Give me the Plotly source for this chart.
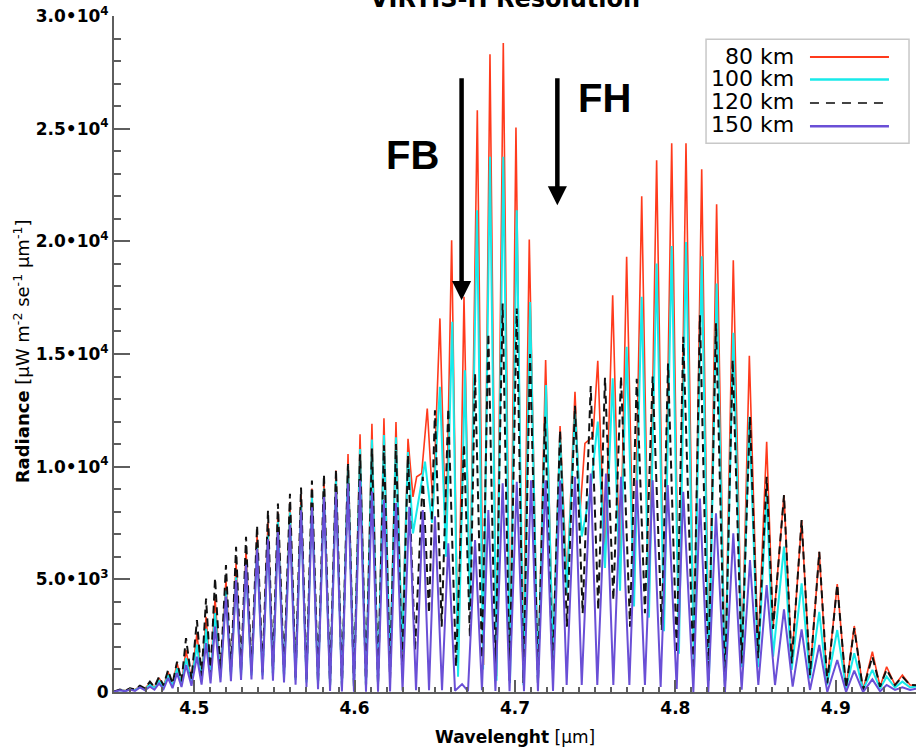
import plotly.graph_objects as go

# (wavelength [um], radiance [uW m-2 sr-1 um-1]) pairs, peak / trough sequence per altitude
radiance_80km = [
    (4.4500, 15), (4.4537, 100), (4.4569, 60), (4.4600, 150), (4.4631, 100), (4.4662, 260),
    (4.4693, 150), (4.4724, 400), (4.4752, 200), (4.4781, 620), (4.4809, 260), (4.4837, 900),
    (4.4865, 330), (4.4893, 1285), (4.4921, 420), (4.4949, 1860), (4.4983, 520), (4.5017, 2600),
    (4.5046, 620), (4.5074, 3340), (4.5102, 700), (4.5130, 4150), (4.5164, 770), (4.5198, 4970),
    (4.5229, 800), (4.5261, 5720), (4.5292, 820), (4.5323, 6300), (4.5357, 830), (4.5392, 6960),
    (4.5426, 820), (4.5460, 7540), (4.5491, 780), (4.5522, 7980), (4.5560, 700), (4.5597, 8420),
    (4.5632, 600), (4.5666, 8750), (4.5700, 480), (4.5734, 9030), (4.5772, 380), (4.5809, 9380),
    (4.5847, 300), (4.5884, 9830), (4.5921, 250), (4.5959, 10560), (4.5996, 250), (4.6034, 11440),
    (4.6071, 300), (4.6108, 11900), (4.6146, 400), (4.6183, 12150), (4.6221, 1000), (4.6258, 11980),
    (4.6296, 2000), (4.6333, 11240), (4.6364, 8660), (4.6387, 9550), (4.6418, 9700), (4.6453, 12580),
    (4.6489, 8200), (4.6532, 16580), (4.6570, 6500), (4.6605, 20050), (4.6645, 1200), (4.6682, 17540),
    (4.6719, 4000), (4.6765, 25820), (4.6804, 1200), (4.6844, 28300), (4.6885, 700), (4.6927, 28800),
    (4.6969, 500), (4.7006, 25050), (4.7050, 400), (4.7089, 20080), (4.7143, 500), (4.7191, 14730),
    (4.7237, 1700), (4.7281, 11800), (4.7324, 4800), (4.7374, 13320), (4.7405, 7930), (4.7436, 11030),
    (4.7486, 11330), (4.7516, 14700), (4.7561, 5800), (4.7609, 17610), (4.7655, 4800), (4.7696, 19310),
    (4.7742, 4100), (4.7790, 22000), (4.7835, 3600), (4.7883, 23600), (4.7929, 3000), (4.7977, 24350),
    (4.8022, 2000), (4.8066, 24350), (4.8116, 1200), (4.8164, 23200), (4.8209, 800), (4.8257, 21650),
    (4.8309, 500), (4.8361, 19160), (4.8415, 1400), (4.8461, 14920), (4.8515, 1800), (4.8569, 11100),
    (4.8609, 2840), (4.8677, 8740), (4.8725, 1270), (4.8787, 7630), (4.8839, 750), (4.8897, 6220),
    (4.8945, 385), (4.9009, 4790), (4.9064, 160), (4.9115, 2930), (4.9170, 90), (4.9228, 1790),
    (4.9276, 235), (4.9317, 1120), (4.9369, 310), (4.9415, 750), (4.9463, 310), (4.9500, 300),
]

radiance_100km = [
    (4.4500, 12), (4.4537, 90), (4.4569, 50), (4.4600, 130), (4.4631, 80), (4.4662, 220),
    (4.4693, 120), (4.4724, 330), (4.4752, 170), (4.4781, 500), (4.4809, 220), (4.4837, 750),
    (4.4865, 280), (4.4893, 1050), (4.4921, 350), (4.4949, 1500), (4.4983, 440), (4.5017, 2100),
    (4.5046, 520), (4.5074, 2800), (4.5102, 600), (4.5130, 3500), (4.5164, 660), (4.5198, 4500),
    (4.5229, 700), (4.5261, 5100), (4.5292, 720), (4.5323, 5670), (4.5357, 740), (4.5392, 6520),
    (4.5426, 730), (4.5460, 6960), (4.5491, 700), (4.5522, 7540), (4.5560, 620), (4.5597, 7980),
    (4.5632, 530), (4.5666, 8300), (4.5700, 420), (4.5734, 8640), (4.5772, 320), (4.5809, 9030),
    (4.5847, 250), (4.5884, 9380), (4.5921, 200), (4.5959, 10120), (4.5996, 200), (4.6034, 10780),
    (4.6071, 250), (4.6108, 11200), (4.6146, 300), (4.6183, 11400), (4.6221, 900), (4.6258, 11300),
    (4.6296, 1800), (4.6333, 10650), (4.6364, 7040), (4.6439, 10220), (4.6483, 7500), (4.6532, 13540),
    (4.6570, 6000), (4.6609, 16430), (4.6645, 680), (4.6688, 14280), (4.6719, 3640), (4.6763, 21380),
    (4.6801, 1000), (4.6844, 23750), (4.6885, 500), (4.6927, 23750), (4.6969, 400), (4.7011, 21380),
    (4.7053, 300), (4.7094, 17310), (4.7143, 400), (4.7193, 13620), (4.7237, 1500), (4.7281, 11300),
    (4.7322, 4380), (4.7374, 12510), (4.7416, 6900), (4.7472, 9000), (4.7516, 12000), (4.7561, 5500),
    (4.7609, 13920), (4.7655, 4500), (4.7696, 15320), (4.7742, 3800), (4.7790, 17540), (4.7835, 3300),
    (4.7883, 19020), (4.7929, 2700), (4.7977, 19790), (4.8022, 1700), (4.8066, 19970), (4.8116, 900),
    (4.8164, 19340), (4.8209, 500), (4.8257, 18130), (4.8309, 250), (4.8361, 15940), (4.8415, 1100),
    (4.8461, 12210), (4.8515, 1100), (4.8569, 8810), (4.8609, 1570), (4.8677, 6450), (4.8725, 980),
    (4.8787, 4820), (4.8839, 600), (4.8897, 3560), (4.8945, 310), (4.9009, 2750), (4.9064, 160),
    (4.9115, 1720), (4.9170, 100), (4.9228, 980), (4.9276, 150), (4.9317, 680), (4.9369, 200),
    (4.9415, 460), (4.9463, 200), (4.9500, 250),
]

radiance_120km = [
    (4.4500, 15), (4.4537, 110), (4.4569, 60), (4.4600, 160), (4.4631, 110), (4.4662, 280),
    (4.4693, 160), (4.4724, 460), (4.4752, 220), (4.4781, 680), (4.4809, 290), (4.4837, 975),
    (4.4865, 370), (4.4893, 1345), (4.4921, 470), (4.4949, 2390), (4.4983, 580), (4.5017, 3190),
    (4.5046, 690), (4.5074, 4150), (4.5102, 780), (4.5130, 5060), (4.5164, 850), (4.5198, 5630),
    (4.5229, 880), (4.5261, 6445), (4.5292, 900), (4.5323, 6890), (4.5357, 900), (4.5392, 7390),
    (4.5426, 880), (4.5460, 8050), (4.5491, 830), (4.5522, 8360), (4.5560, 750), (4.5597, 8800),
    (4.5632, 650), (4.5666, 9070), (4.5700, 520), (4.5734, 9380), (4.5772, 400), (4.5809, 9650),
    (4.5847, 300), (4.5884, 9870), (4.5921, 250), (4.5959, 10120), (4.5996, 240), (4.6034, 10550),
    (4.6071, 270), (4.6108, 10800), (4.6146, 330), (4.6183, 10950), (4.6221, 600), (4.6258, 11000),
    (4.6296, 1000), (4.6333, 10500), (4.6377, 1860), (4.6425, 9550), (4.6464, 3500), (4.6501, 12500),
    (4.6543, 2900), (4.6584, 12580), (4.6632, 1120), (4.6682, 11000), (4.6719, 2450), (4.6751, 14140),
    (4.6794, 1500), (4.6834, 15910), (4.6878, 800), (4.6923, 17240), (4.6966, 500), (4.7011, 17020),
    (4.7053, 400), (4.7094, 15000), (4.7143, 400), (4.7187, 12210), (4.7234, 1000), (4.7281, 11600),
    (4.7324, 2900), (4.7374, 12700), (4.7422, 3490), (4.7472, 13580), (4.7519, 3640), (4.7561, 13950),
    (4.7613, 4080), (4.7661, 14000), (4.7717, 2900), (4.7759, 13900), (4.7810, 3500), (4.7858, 14000),
    (4.7915, 2750), (4.7954, 14580), (4.8008, 1720), (4.8049, 15760), (4.8112, 980), (4.8153, 16720),
    (4.8205, 530), (4.8253, 16360), (4.8309, 240), (4.8357, 14730), (4.8413, 1270), (4.8465, 12210),
    (4.8515, 1500), (4.8569, 9550), (4.8609, 2800), (4.8677, 8740), (4.8725, 1270), (4.8787, 7630),
    (4.8839, 750), (4.8897, 6220), (4.8947, 385), (4.9009, 4770), (4.9064, 160), (4.9115, 2830),
    (4.9170, 90), (4.9228, 1570), (4.9276, 235), (4.9317, 1000), (4.9369, 310), (4.9415, 680),
    (4.9463, 310), (4.9500, 300),
]

radiance_150km = [
    (4.4500, 15), (4.4537, 80), (4.4569, 30), (4.4600, 110), (4.4631, 50), (4.4662, 200),
    (4.4693, 80), (4.4724, 235), (4.4752, 100), (4.4781, 385), (4.4809, 130), (4.4837, 620),
    (4.4865, 170), (4.4893, 840), (4.4921, 220), (4.4949, 1200), (4.4983, 280), (4.5017, 1565),
    (4.5046, 330), (4.5074, 2170), (4.5102, 380), (4.5130, 2900), (4.5164, 430), (4.5198, 4230),
    (4.5229, 480), (4.5261, 4970), (4.5292, 530), (4.5323, 5650), (4.5357, 560), (4.5392, 6340),
    (4.5426, 560), (4.5460, 6780), (4.5491, 500), (4.5522, 7100), (4.5560, 420), (4.5597, 7420),
    (4.5632, 320), (4.5666, 8070), (4.5700, 220), (4.5734, 8200), (4.5772, 120), (4.5809, 8650),
    (4.5847, 50), (4.5884, 8870), (4.5921, 20), (4.5959, 9250), (4.5996, 10), (4.6034, 9380),
    (4.6071, 10), (4.6108, 8900), (4.6146, 10), (4.6183, 8520), (4.6221, 20), (4.6258, 8390),
    (4.6299, 60), (4.6341, 8220), (4.6383, 80), (4.6425, 8074), (4.6464, 80), (4.6501, 7800),
    (4.6545, 80), (4.6584, 6600), (4.6626, 60), (4.6670, 350), (4.6707, 40), (4.6751, 6740),
    (4.6794, 80), (4.6834, 8070), (4.6878, 50), (4.6923, 9260), (4.6966, 30), (4.7011, 9330),
    (4.7056, 30), (4.7100, 9400), (4.7143, 30), (4.7190, 9400), (4.7237, 50), (4.7281, 9400),
    (4.7322, 310), (4.7374, 9550), (4.7416, 310), (4.7472, 9700), (4.7513, 310), (4.7567, 9700),
    (4.7613, 310), (4.7661, 9550), (4.7713, 310), (4.7759, 9400), (4.7810, 310), (4.7858, 9400),
    (4.7908, 220), (4.7952, 9180), (4.8008, 130), (4.8049, 8880), (4.8112, 0), (4.8153, 8590),
    (4.8205, 0), (4.8253, 7930), (4.8309, 0), (4.8361, 7040), (4.8413, 100), (4.8465, 5860),
    (4.8517, 310), (4.8569, 4750), (4.8621, 310), (4.8677, 3670), (4.8731, 240), (4.8787, 2780),
    (4.8839, 90), (4.8897, 2085), (4.8947, 0), (4.9009, 1420), (4.9064, 0), (4.9115, 950),
    (4.9170, 0), (4.9228, 560), (4.9276, 30), (4.9317, 310), (4.9369, 90), (4.9415, 210),
    (4.9463, 90), (4.9500, 150),
]

altitude_labels = ["80 km", "100 km", "120 km", "150 km"]
y_tickvals = [0, 5000, 10000, 15000, 20000, 25000, 30000]
y_ticktext = ["0", "5.0•10<sup>3</sup>", "1.0•10<sup>4</sup>", "1.5•10<sup>4</sup>",
              "2.0•10<sup>4</sup>", "2.5•10<sup>4</sup>", "3.0•10<sup>4</sup>"]

FONT = "Liberation Sans, Arial, Helvetica, sans-serif"
WIDE = "DejaVu Sans, Verdana, sans-serif"
AXIS_GREY = "#5e5e5e"

styles = [
    dict(color="#ff3a1c", width=1.6),
    dict(color="#18eaea", width=2),
    dict(color="#111111", width=2, dash="8px,5px"),
    dict(color="#6a4fd6", width=2),
]
legend_styles = [
    dict(color="#ff3a1c", width=2),
    dict(color="#18eaea", width=2.5),
    dict(color="#444444", width=2, dash="9px,7px"),
    dict(color="#6a4fd6", width=2.5),
]

fig = go.Figure()
for label, pts, style in zip(altitude_labels,
                             [radiance_80km, radiance_100km, radiance_120km, radiance_150km],
                             styles):
    fig.add_trace(go.Scatter(
        x=[p[0] for p in pts], y=[p[1] for p in pts],
        mode="lines", name=label, line=style, showlegend=False,
    ))

fig.update_layout(
    width=916, height=751,
    margin=dict(l=114, r=0, t=16, b=59),
    paper_bgcolor="white", plot_bgcolor="white",
    font=dict(family=FONT, color="black"),
    xaxis=dict(
        range=[4.45, 4.95], tick0=4.5, dtick=0.1, tickformat=".1f",
        showgrid=False, zeroline=False,
        showline=True, linecolor=AXIS_GREY, linewidth=2,
        ticks="inside", ticklen=12, tickwidth=1.5, tickcolor=AXIS_GREY,
        minor=dict(dtick=0.01, ticks="inside", ticklen=5, tickwidth=1.5, tickcolor=AXIS_GREY),
        tickfont=dict(size=17, family=WIDE, weight="bold"),
    ),
    yaxis=dict(
        range=[0, 30000], tickvals=y_tickvals, ticktext=y_ticktext,
        showgrid=False, zeroline=False,
        showline=True, linecolor=AXIS_GREY, linewidth=2,
        ticks="inside", ticklen=16, tickwidth=1.5, tickcolor=AXIS_GREY,
        minor=dict(dtick=1000, ticks="inside", ticklen=7, tickwidth=1.5, tickcolor=AXIS_GREY),
        tickfont=dict(size=17, family=WIDE, weight="bold"),
    ),
)

annotations = [
    dict(text="<b>VIRTIS-H Resolution</b>", xref="paper", yref="paper", x=0.4875, y=1.0,
         xanchor="center", yanchor="bottom", yshift=1, showarrow=False,
         font=dict(size=24, family=WIDE)),
    dict(text="<b>Wavelenght</b> [µm]", xref="paper", yref="paper", x=0.5, y=0,
         xanchor="center", yanchor="middle", yshift=-45, showarrow=False,
         font=dict(size=17, family=WIDE)),
    dict(text="<b>Radiance</b> [µW m<sup>-2</sup> se<sup>-1</sup> µm<sup>-1</sup>]",
         xref="paper", yref="paper", x=-0.1147, y=0.504, textangle=-90,
         xanchor="center", yanchor="middle", showarrow=False,
         font=dict(size=18, family=WIDE)),
    # band markers
    dict(text="<b>FB</b>", x=4.6364, y=23820, xanchor="center", yanchor="middle",
         showarrow=False, font=dict(size=40, family=FONT)),
    dict(text="<b>FH</b>", x=4.7561, y=26370, xanchor="center", yanchor="middle",
         showarrow=False, font=dict(size=40, family=FONT)),
    dict(text="", x=4.6667, y=17390, ax=4.6667, ay=27300, axref="x", ayref="y",
         showarrow=True, arrowhead=2, arrowsize=0.85, arrowwidth=4.5, arrowcolor="black"),
    dict(text="", x=4.7264, y=21600, ax=4.7264, ay=27300, axref="x", ayref="y",
         showarrow=True, arrowhead=2, arrowsize=0.85, arrowwidth=4.5, arrowcolor="black"),
]

# hand-built legend: label on the left, line sample on the right
legend_rows_text = [0.9397, 0.9071, 0.8739, 0.8399]
legend_rows_line = [0.9393, 0.9059, 0.8713, 0.8369]
shapes = [dict(type="rect", xref="paper", yref="paper", x0=0.7382, x1=0.9913, y0=0.8118, y1=0.9655,
               line=dict(color="#c8c8c8", width=1.5), fillcolor="white", layer="above")]
for label, ty, ly, st in zip(altitude_labels, legend_rows_text, legend_rows_line, legend_styles):
    annotations.append(dict(text=label, xref="paper", yref="paper", x=0.8504, y=ty,
                            xanchor="right", yanchor="middle", showarrow=False,
                            font=dict(size=22, family=WIDE)))
    shapes.append(dict(type="line", xref="paper", yref="paper", x0=0.8678, x1=0.9663,
                       y0=ly, y1=ly, line=st, layer="above"))

fig.update_layout(annotations=annotations, shapes=shapes)

fig.write_html("out.html", config=dict(displayModeBar=False))
